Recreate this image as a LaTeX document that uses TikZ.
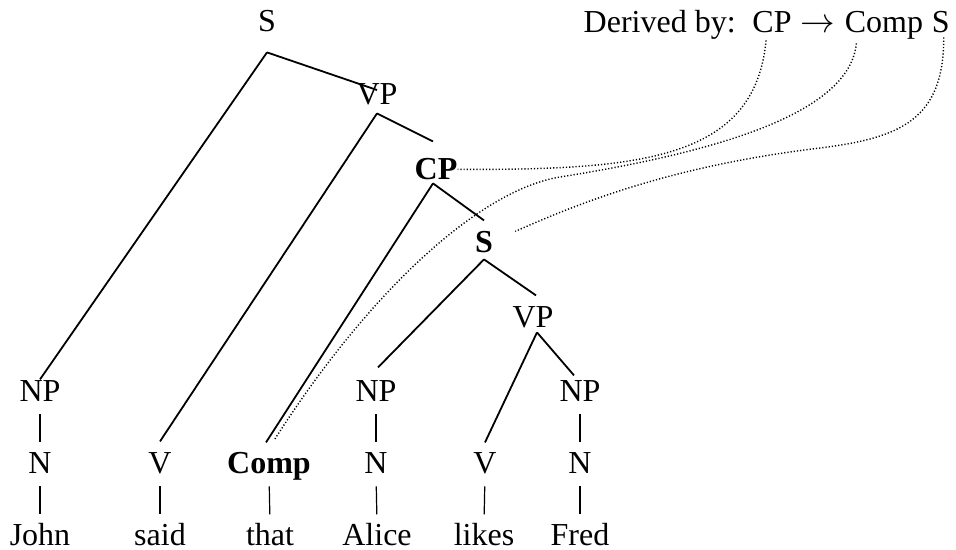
\documentclass[tikz,border=0pt]{standalone}
\usepackage{fontspec}
\setmainfont{Liberation Serif}
\usetikzlibrary{positioning}

\begin{document}
\begin{tikzpicture}[
    x=0.5pt, y=-0.5pt,
    font=\fontsize{16}{19}\selectfont,
    cat/.style={inner sep=0pt, text height=10.6pt, text depth=0pt, anchor=base},
    head/.style={cat, font=\fontsize{16}{19}\selectfont\bfseries},
    branch/.style={line width=0.9pt},
    stem/.style={line width=0.6pt, shorten <=6.5pt, shorten >=4.5pt},
    link/.style={line width=0.7pt, dash pattern=on 0.6pt off 1pt}
]
\useasboundingbox (0,0) rectangle (956,550);

% upper part of the tree
\node[cat] (s0) at (267,32) {S};
\node[cat] (vp1) at (377,105) {VP};
\node[head] (cp) at (436,180) {CP};
\node[head] (s1) at (484,253) {S};
\node[cat] (vp2) at (533,327) {VP};

% phrases and word classes
\node[cat] (np1) at (40,401) {NP};
\node[cat] (np2) at (376,401) {NP};
\node[cat] (np3) at (580,401) {NP};
\node[cat] (n1) at (40,473) {N};
\node[cat] (v1) at (160,473) {V};
\node[head] (comp) at (269,473) {Comp};
\node[cat] (n2) at (376,473) {N};
\node[cat] (v2) at (485,473) {V};
\node[cat] (n3) at (580,473) {N};

% words
\foreach \w/\x in {John/40, said/160, that/270, Alice/377, likes/484, Fred/580}
    \node[cat] (\w) at (\x,545) {\w};

% the rule, set from the right
\node[cat, anchor=base east] (rs) at (950,33) {S};
\node[cat, left=4pt of rs] (rcomp) {Comp};
\node[cat, left=4.5pt of rcomp] (rarr) {$\rightarrow$};
\node[cat, left=4pt of rarr] (rcp) {CP};
\node[cat, left=8pt of rcp] (dlab) {Derived by:};

% branches
\draw[branch] ([yshift=-10pt]s0.south) -- (np1.north);
\draw[branch] ([yshift=-10pt]s0.south) -- ([yshift=-3.3pt]vp1.north);
\draw[branch] ([yshift=-4pt]vp1.south) -- ([yshift=5pt]v1.north);
\draw[branch] ([yshift=-4pt]vp1.south) -- ([xshift=-1.5pt,yshift=8.5pt]cp.north);
\draw[branch] ([xshift=-1.5pt,yshift=-1.5pt]cp.south) -- ([xshift=-1.5pt,yshift=4.5pt]comp.north);
\draw[branch] ([xshift=-1.5pt,yshift=-1.5pt]cp.south) -- ([yshift=5.5pt]s1.north);
\draw[branch] ([yshift=-3pt]s1.south) -- ([xshift=1pt,yshift=6pt]np2.north);
\draw[branch] ([yshift=-3pt]s1.south) -- ([xshift=1.5pt,yshift=5pt]vp2.north);
\draw[branch] ([xshift=2pt,yshift=-2.5pt]vp2.south) -- ([yshift=4.5pt]v2.north);
\draw[branch] ([xshift=2pt,yshift=-2.5pt]vp2.south) -- ([xshift=-3pt,yshift=2pt]np3.north);

% unary stems
\foreach \a/\b in {np1/n1, n1/John, v1/said, comp/that, np2/n2, n2/Alice, v2/likes, np3/n3, n3/Fred}
    \draw[stem] (\a.south) -- (\b.north);

% dotted links from the rule to the nodes
\draw[link] ([xshift=-3pt,yshift=-3.5pt]rcp.south) .. controls (755,160) and (640,170) .. (cp.east);
\draw[link] ([xshift=6pt,yshift=-5pt]rcomp.south west) .. controls (850,110) and (730,150) .. (560,177)
    .. controls (480,190) and (370,290) .. ([xshift=2.5pt,yshift=5.5pt]comp.north);
\draw[link] ([xshift=1.5pt,yshift=-2pt]rs.south) .. controls (944,120) and (900,138) .. (820,148)
    .. controls (680,165) and (590,198) .. ([xshift=11pt]s1.north east);
\end{tikzpicture}
\end{document}
